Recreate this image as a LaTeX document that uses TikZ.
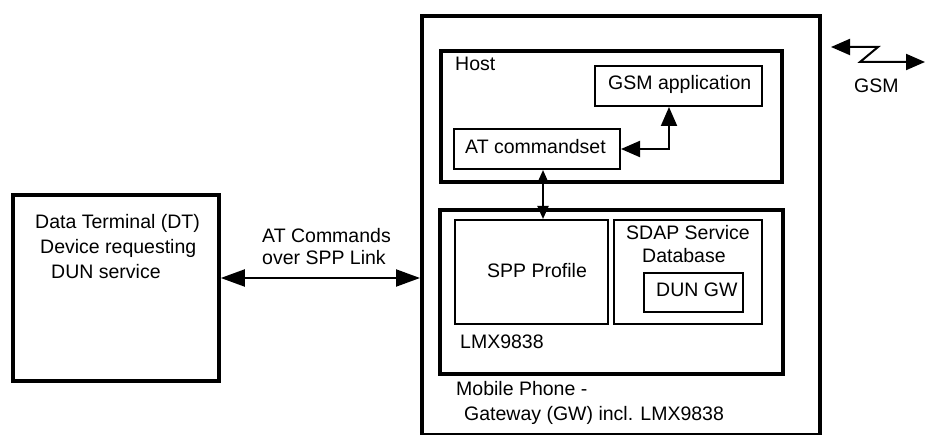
\documentclass[tikz,border=0pt]{standalone}
\usepackage{fontspec}
\setmainfont{Liberation Sans}
\usetikzlibrary{arrows.meta}
\begin{document}
\begin{tikzpicture}[x=1pt,y=-1pt,
  every node/.style={font=\fontsize{19.5}{23}\selectfont},
  thickbox/.style={draw, line width=3.8pt, inner sep=0pt, anchor=north west},
  thinbox/.style={draw, line width=2pt, inner sep=0pt, anchor=north west},
  lbl/.style={anchor=base west, inner sep=0pt},
  conn/.style={line width=2pt},
  bigtip/.style={{Triangle[length=24pt,width=17pt]}-{Triangle[length=24pt,width=17pt]}},
  midtip/.style={{Triangle[length=19pt,width=16pt]}-{Triangle[length=19pt,width=16pt]}},
  smalltip/.style={{Triangle[length=13pt,width=11pt]}-{Triangle[length=13pt,width=11pt]}}
]
\useasboundingbox (0,0) rectangle (925,435);
% boxes
\node[thickbox, minimum width=398pt, minimum height=419pt] (phone) at (420,14) {};
\node[thickbox, minimum width=341pt, minimum height=131pt] (host) at (439,49) {};
\node[thinbox, minimum width=167pt, minimum height=40pt] (gsmapp) at (594,65) {};
\node[thinbox, minimum width=166pt, minimum height=40pt] (at) at (453,128) {};
\node[thickbox, minimum width=343pt, minimum height=164pt] (lmx) at (438,208) {};
\node[thinbox, minimum width=153pt, minimum height=104pt] (spp) at (454,219) {};
\node[thinbox, minimum width=148pt, minimum height=104pt] (sdap) at (613,219) {};
\node[thinbox, minimum width=99pt, minimum height=39pt] (dungw) at (643,272) {};
\node[thickbox, minimum width=206pt, minimum height=186pt] (dt) at (11,193) {};
% labels
\node[lbl] (thost) at (455,71) {Host};
\node[lbl] (tgsmapp) at (608,90) {GSM application};
\node[lbl] (tat) at (465,154) {AT commandset};
\node[lbl] (tspp) at (487,277) {SPP Profile};
\node[lbl] (tsdap1) at (626,240) {SDAP Service};
\node[lbl] (tsdap2) at (642,262) {Database};
\node[lbl] (tdun) at (656,297) {DUN GW};
\node[lbl] (tlmx) at (460,348) {LMX9838};
\node[lbl] (tmob1) at (456,395) {Mobile Phone -};
\node[lbl] (tmob2) at (464,420) {Gateway (GW) incl. LMX9838};
\node[lbl] (tdt1) at (35,229) {Data Terminal (DT)};
\node[lbl] (tdt2) at (40,254) {Device requesting};
\node[lbl] (tdt3) at (51,279) {DUN service};
\node[lbl] (tatc1) at (262,243) {AT Commands};
\node[lbl] (tatc2) at (262,265) {over SPP Link};
\node[lbl] (tgsm) at (854,93) {GSM};
% connectors
\coordinate (hl) at (0,278);
\draw[conn, bigtip] (hl -| dt.east) -- (hl -| phone.west);
\coordinate (vl) at (543,0);
\draw[conn, smalltip] (vl |- at.south) -- (vl |- spp.north);
\coordinate (wl) at (669,0);
\draw[conn, midtip] (at.east) -| (wl |- gsmapp.south);
% GSM symbol
\coordinate (g1) at (831,47);
\coordinate (g2) at (878,47);
\coordinate (g3) at (860,62);
\coordinate (g4) at (925,62);
\draw[conn, midtip, line join=miter] (g1) -- (g2) -- (g3) -- (g4);
\end{tikzpicture}
\end{document}
